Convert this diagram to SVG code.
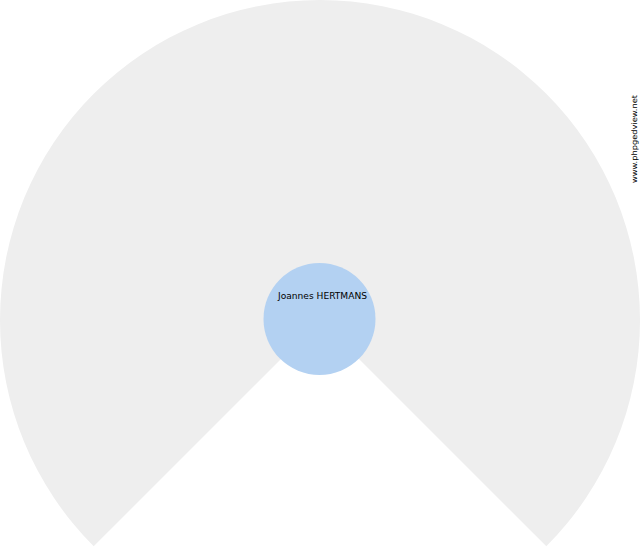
<svg xmlns="http://www.w3.org/2000/svg" width="640" height="550" viewBox="0 0 640 550">
<style>
.t{font-family:"DejaVu Sans",sans-serif;fill:#000}
</style>
<rect width="640" height="550" fill="#ffffff"/>
<g id="fan">
<path d="M320,320 L93.7,546.3 A320,320 0 1 1 546.3,546.3 Z" fill="#eeeeee"/>
</g>
<g id="connectors"></g>
<g id="person">
<circle cx="319.5" cy="319" r="56" fill="#b3d1f2"/>
<text class="t" x="278" y="299" font-size="9" textLength="89" lengthAdjust="spacingAndGlyphs">Joannes HERTMANS</text>
</g>
<g id="credit">
<text class="t" transform="translate(637,183) rotate(-90)" font-size="7.5" textLength="88" lengthAdjust="spacingAndGlyphs">www.phpgedview.net</text>
</g>
</svg>
